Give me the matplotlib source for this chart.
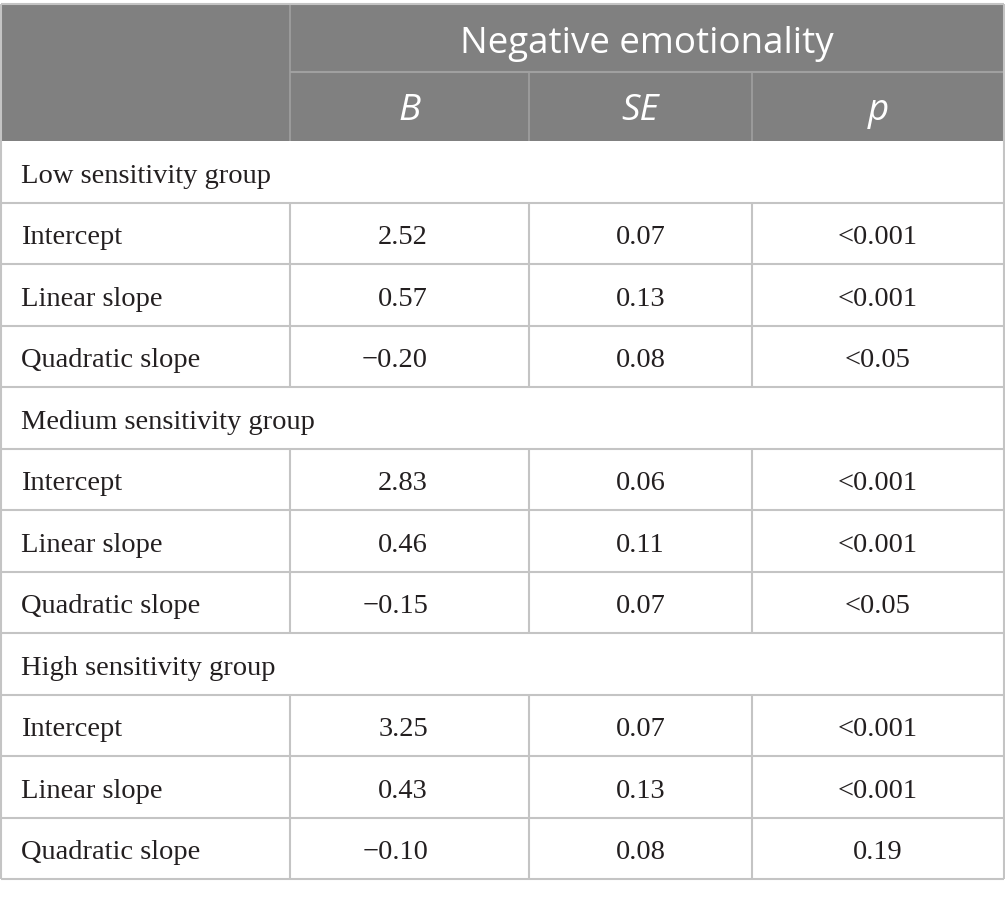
import matplotlib
matplotlib.use("Agg")
import matplotlib.pyplot as plt
from matplotlib.patches import Rectangle

# ---- data ----
header_top = "Negative emotionality"
col_headers = ["B", "SE", "p"]
groups = ["Low sensitivity group", "Medium sensitivity group", "High sensitivity group"]
row_labels = ["Intercept", "Linear slope", "Quadratic slope"]
B_vals = [["2.52", "0.57", "\u22120.20"],
          ["2.83", "0.46", "\u22120.15"],
          ["3.25", "0.43", "\u22120.10"]]
SE_vals = [["0.07", "0.13", "0.08"],
           ["0.06", "0.11", "0.07"],
           ["0.07", "0.13", "0.08"]]
p_vals = [["<0.001", "<0.001", "<0.05"],
          ["<0.001", "<0.001", "<0.05"],
          ["<0.001", "<0.001", "0.19"]]

# ---- layout ----
W, H = 1005, 898
fig = plt.figure(figsize=(W / 100, H / 100), dpi=100)
ax = fig.add_axes([0, 0, 1, 1])
ax.set_xlim(0, W)
ax.set_ylim(H, 0)
ax.axis("off")

xs = [0.5, 290, 529, 752, 1004]
y_top, y_h1, y_h2 = 4, 72, 141
row_h = (879 - 141) / 12.0
hdr_color = "#808080"
line_c = "#c4c4c4"
hdr_line = "#a0a0a0"
txt_c = "#231f20"
serif = ["Liberation Serif", "DejaVu Serif"]
sans = ["Open Sans", "DejaVu Sans"]
fs_body = 20.5
fs_hdr = 26.5
base_off = 11

# header background
ax.add_patch(Rectangle((xs[0], y_top), xs[-1] - xs[0], y_h2 - y_top, color=hdr_color, lw=0))
# header lines
ax.vlines(xs[1], y_top, y_h2, color=hdr_line, lw=1.2)
ax.hlines(y_h1, xs[1], xs[-1], color=hdr_line, lw=1.5)
ax.vlines(xs[2:4], y_h1, y_h2, color=hdr_line, lw=1.2)
ax.text((xs[1] + xs[-1]) / 2, 53, header_top, color="white",
        fontsize=fs_hdr, family=sans, ha="center", va="baseline")
for i, h in enumerate(col_headers):
    ax.text((xs[i + 1] + xs[i + 2]) / 2, 120, h, color="white",
            fontsize=fs_hdr, family=sans, style="italic", ha="center", va="baseline")

# body
y = y_h2
for g, grp in enumerate(groups):
    ax.text(21, y + row_h / 2 + base_off, grp, fontsize=fs_body, family=serif, color=txt_c,
            ha="left", va="baseline")
    y += row_h
    ax.hlines(y, xs[0], xs[-1], color=line_c, lw=1.5)
    for r, lab in enumerate(row_labels):
        yb = y + row_h / 2 + base_off
        ax.text(21, yb, lab, fontsize=fs_body, family=serif, color=txt_c, ha="left", va="baseline")
        ax.text(428, yb, B_vals[g][r], fontsize=fs_body, family=serif, color=txt_c,
                ha="right", va="baseline")
        ax.text((xs[2] + xs[3]) / 2, yb, SE_vals[g][r], fontsize=fs_body, family=serif,
                color=txt_c, ha="center", va="baseline")
        ax.text((xs[3] + xs[4]) / 2, yb, p_vals[g][r], fontsize=fs_body, family=serif,
                color=txt_c, ha="center", va="baseline")
        ax.vlines(xs[1:4], y, y + row_h, color=line_c, lw=1.5)
        y += row_h
        ax.hlines(y, xs[0], xs[-1], color=line_c, lw=1.5)

# outer border
ax.vlines([xs[0], xs[-1]], y_top, y, color=line_c, lw=1.5)
ax.hlines(y_top, xs[0], xs[-1], color=line_c, lw=1.5)

fig.savefig("out.png", dpi=100)
